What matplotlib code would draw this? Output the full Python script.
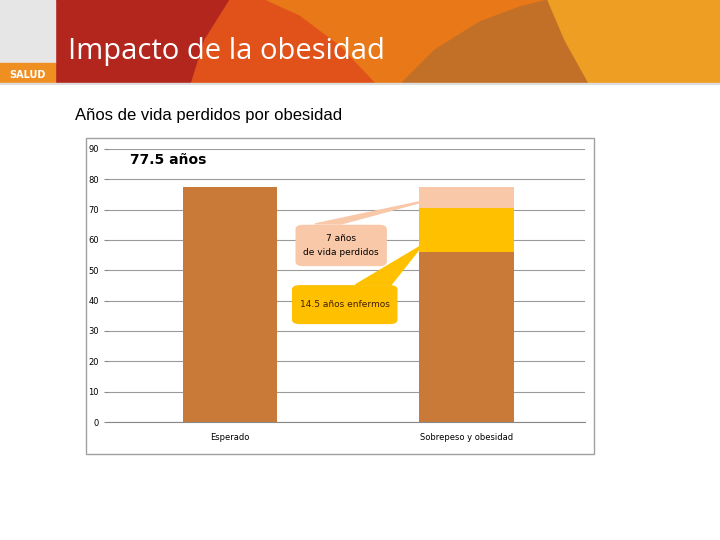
import matplotlib
matplotlib.use("Agg")
import matplotlib.pyplot as plt
from matplotlib.patches import Rectangle, Polygon, FancyBboxPatch

categories = ["Esperado", "Sobrepeso y obesidad"]
base = [77.5, 56.0]
sick = [0, 14.5]
lost = [0, 7.0]

BROWN = "#c97a38"
YELLOW = "#ffc000"
PEACH = "#f8c8a8"

fig = plt.figure(figsize=(7.2, 5.4), dpi=100)

# header banner in pixel coords
hd = fig.add_axes([0, 1 - 85 / 540, 1, 85 / 540])
hd.set_xlim(0, 720)
hd.set_ylim(85, 0)
hd.axis("off")
hd.add_patch(Rectangle((0, 0), 720, 85, color="#b3261e"))
bands = [
    ([(230, 0), (720, 0), (720, 85), (191, 85), (205, 40)], "#e0521a"),
    ([(267, 0), (720, 0), (720, 85), (378, 85), (340, 45), (300, 15)], "#e87818"),
    ([(548, 0), (565, 40), (590, 85), (400, 85), (435, 50), (480, 22), (520, 7)],
     "#c27028"),
    ([(548, 0), (720, 0), (720, 85), (590, 85), (565, 40)], "#ee9e22"),
]
for pts, c in bands:
    hd.add_patch(Polygon(pts, color=c))
hd.add_patch(Rectangle((0, 0), 55, 63, color="#e6e6e6"))
hd.add_patch(Rectangle((0, 63), 55, 22, color="#ef8f22"))
hd.add_patch(Rectangle((0, 83), 720, 2, color="#dddddd"))
hd.text(27, 75, "SALUD", color="white", fontsize=7, fontweight="bold",
        ha="center", va="center")
hd.text(68, 51, "Impacto de la obesidad", color="white", fontsize=21,
        family="Open Sans", va="center")

fig.text(75 / 720, 1 - 115 / 540, "Años de vida perdidos por obesidad",
         fontsize=12, family="Liberation Sans", va="center")

# chart frame
fig.patches.append(Rectangle((86 / 720, 1 - 454 / 540), 508 / 720, 316 / 540,
                             transform=fig.transFigure, fill=False,
                             edgecolor="#a0a0a0", lw=1))

ax = fig.add_axes([108 / 720, 1 - 422 / 540, 477 / 720, 273 / 540])
x = range(len(categories))
ax.bar(x, base, width=0.4, color=BROWN)
ax.bar(x, sick, width=0.4, bottom=base, color=YELLOW)
ax.bar(x, lost, width=0.4, bottom=[b + s for b, s in zip(base, sick)], color=PEACH)
ax.set_xlim(-0.515, 1.5)
ax.set_ylim(0, 90)
ax.set_yticks(range(0, 91, 10))
ax.set_xticks([0, 1])
ax.set_xticklabels(categories, fontsize=6)
ax.tick_params(axis="y", labelsize=6, length=3, color="#888888")
ax.tick_params(axis="x", length=0, pad=8)
ax.grid(axis="y", color="#9a9a9a", lw=0.8)
ax.set_axisbelow(True)
for s in ["top", "right", "left"]:
    ax.spines[s].set_visible(False)
ax.spines["bottom"].set_color("#888888")
ax.text(-0.42, 86.5, "77.5 años", fontsize=10, fontweight="bold", va="center")

# callouts
ax.add_patch(Polygon([(0.36, 65.3), (0.47, 65.3), (0.873, 73.8)], color=PEACH,
                     clip_on=False))
ax.add_patch(FancyBboxPatch((0.28, 51.6), 0.38, 13.2,
                            boxstyle="round,pad=0,rounding_size=0.03",
                            color=PEACH, clip_on=False, mutation_aspect=40))
ax.text(0.47, 58.2, "7 años\nde vida perdidos", fontsize=6.5, ha="center",
        va="center", linespacing=1.6)
ax.add_patch(Polygon([(0.53, 45.2), (0.68, 45.2), (0.814, 58.4)], color=YELLOW,
                     clip_on=False))
ax.add_patch(FancyBboxPatch((0.265, 32.5), 0.44, 12.4,
                            boxstyle="round,pad=0,rounding_size=0.03",
                            color=YELLOW, clip_on=False, mutation_aspect=40))
ax.text(0.485, 38.7, "14.5 años enfermos", fontsize=6.5, ha="center",
        va="center", color="#402000")

fig.savefig("out.png", dpi=100)
